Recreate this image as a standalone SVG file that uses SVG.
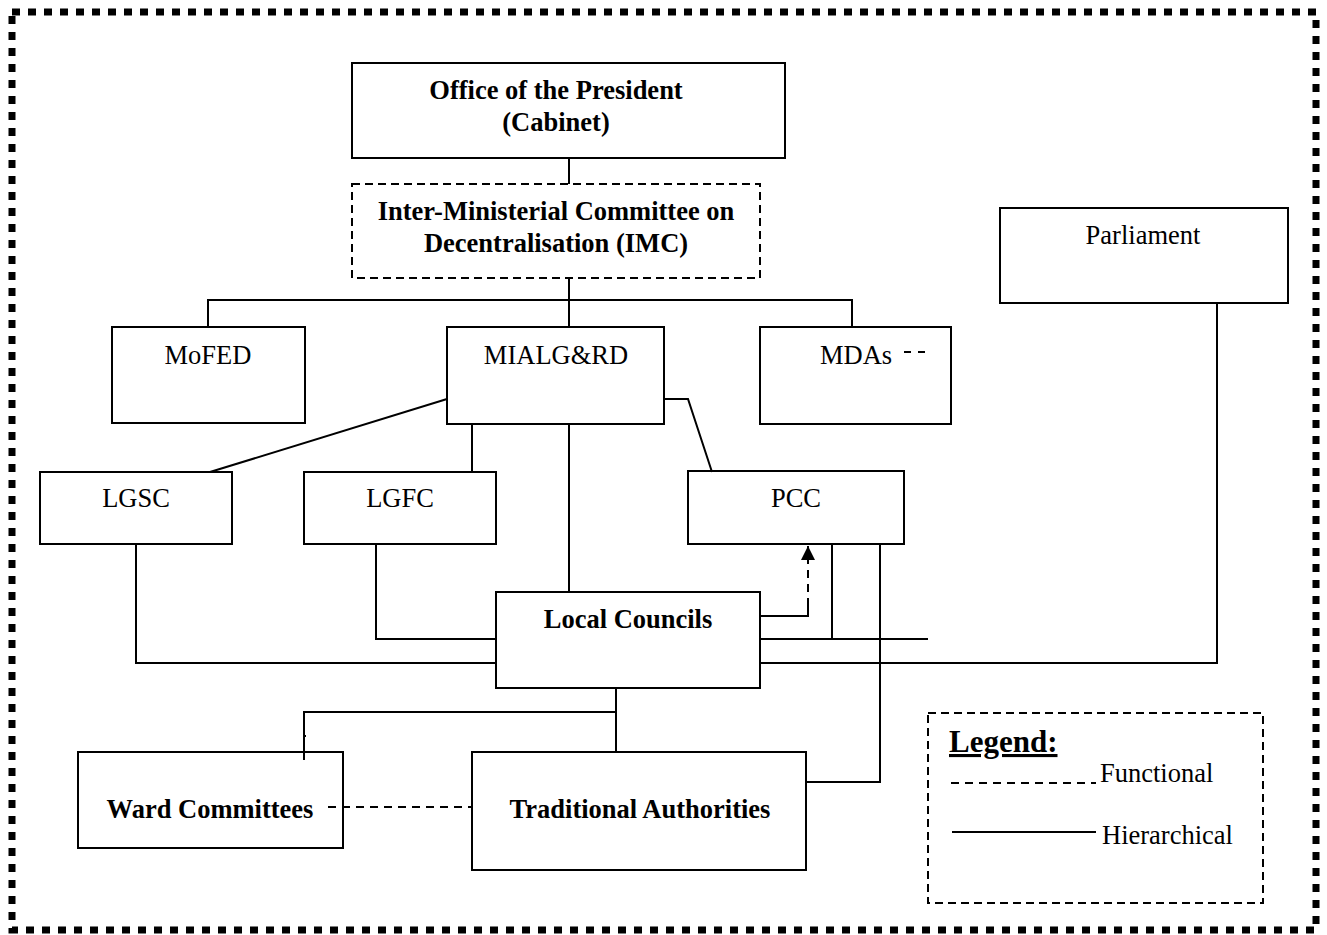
<svg xmlns="http://www.w3.org/2000/svg" width="1327" height="935" viewBox="0 0 1327 935">
<style>
.box{fill:#fff;stroke:#000;stroke-width:2}
.dbox{fill:#fff;stroke:#000;stroke-width:2;stroke-dasharray:8 5}
.ln{fill:none;stroke:#000;stroke-width:2}
.dl{fill:none;stroke:#000;stroke-width:2;stroke-dasharray:8 6}
.t{font-family:"Liberation Serif","Times New Roman",serif;font-size:26.5px;fill:#000}
.b{font-weight:bold}
.m{text-anchor:middle}
</style>
<defs>
<marker id="ah" viewBox="0 0 14 14" refX="14" refY="7" markerWidth="14" markerHeight="14" markerUnits="userSpaceOnUse" orient="auto">
<path d="M0,0 L14,7 L0,14 Z" fill="#000"/>
</marker>
</defs>
<rect x="0" y="0" width="1327" height="935" fill="#fff"/>
<rect x="12" y="12" width="1304" height="918" fill="none" stroke="#000" stroke-width="7" stroke-dasharray="8 8"/>

<g id="office">
<rect class="box" x="352" y="63" width="433" height="95"/>
<text class="t b m" x="556" y="99">Office of the President</text>
<text class="t b m" x="556" y="131">(Cabinet)</text>
</g>
<g id="imc">
<rect class="dbox" x="352" y="184" width="408" height="94"/>
<text class="t b m" x="556" y="220">Inter-Ministerial Committee on</text>
<text class="t b m" x="556" y="252">Decentralisation (IMC)</text>
</g>
<g id="parliament">
<rect class="box" x="1000" y="208" width="288" height="95"/>
<text class="t m" x="1143" y="244">Parliament</text>
</g>
<g id="mofed">
<rect class="box" x="112" y="327" width="193" height="96"/>
<text class="t m" x="208" y="364">MoFED</text>
</g>
<g id="mialg">
<rect class="box" x="447" y="327" width="217" height="97"/>
<text class="t m" x="556" y="364">MIALG&amp;RD</text>
</g>
<g id="mdas">
<rect class="box" x="760" y="327" width="191" height="97"/>
<text class="t" x="820" y="364">MDAs</text>
<path class="ln" d="M904,352 H911 M918,352 H925"/>
</g>
<g id="lgsc">
<rect class="box" x="40" y="472" width="192" height="72"/>
<text class="t m" x="136" y="507">LGSC</text>
</g>
<g id="lgfc">
<rect class="box" x="304" y="472" width="192" height="72"/>
<text class="t m" x="400" y="507">LGFC</text>
</g>
<g id="pcc">
<rect class="box" x="688" y="471" width="216" height="73"/>
<text class="t m" x="796" y="507">PCC</text>
</g>
<g id="local">
<rect class="box" x="496" y="592" width="264" height="96"/>
<text class="t b m" x="628" y="628">Local Councils</text>
</g>
<g id="ward">
<rect class="box" x="78" y="752" width="265" height="96"/>
<text class="t b m" x="210" y="818">Ward Committees</text>
</g>
<g id="traditional">
<rect class="box" x="472" y="752" width="334" height="118"/>
<text class="t b m" x="640" y="818">Traditional Authorities</text>
</g>
<g id="legend">
<rect class="dbox" x="928" y="713" width="335" height="190"/>
<text class="t b" x="949" y="752" style="font-size:31px;text-decoration:underline">Legend:</text>
<path class="dl" d="M951,783 H1096"/>
<text class="t" x="1100" y="782">Functional</text>
<path class="ln" d="M952,832 H1096"/>
<text class="t" x="1102" y="844">Hierarchical</text>
</g>

<g id="connectors">
<path class="ln" d="M569,158 V184"/>
<path class="ln" d="M569,279 V300"/>
<path class="ln" d="M208,327 V300 H852 V327"/>
<path class="ln" d="M569,300 V327"/>
<path class="ln" d="M447,399 L210,472"/>
<path class="ln" d="M472,424 V472"/>
<path class="ln" d="M569,424 V592"/>
<path class="ln" d="M665,399 H688 L712,472"/>
<path class="ln" d="M136,544 V663 H496"/>
<path class="ln" d="M376,543 V639 H496"/>
<path class="ln" d="M760,616 H808 V606"/>
<path class="dl" d="M808,606 V546" marker-end="url(#ah)"/>
<path class="ln" d="M832,544 V639"/>
<path class="ln" d="M760,639 H928"/>
<path class="ln" d="M760,663 H1217 V303"/>
<path class="ln" d="M880,544 V782 H806"/>
<path class="ln" d="M616,688 V752"/>
<path class="ln" d="M304,760 V712 H616"/>
<path class="ln" d="M304,736 H306"/>
<path class="dl" d="M328,807 H472"/>
</g>
</svg>
